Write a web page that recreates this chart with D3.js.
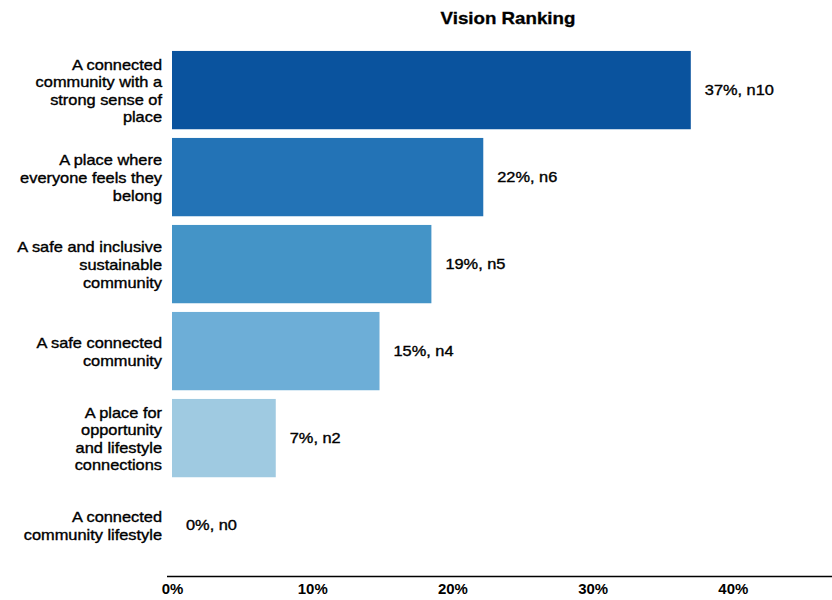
<!DOCTYPE html>
<html>
<head>
<meta charset="utf-8">
<script src="https://cdn.jsdelivr.net/npm/d3@7"></script>
<style>
  body { margin: 0; background: #fff; }
  svg text { font-family: "Liberation Sans", Arial, sans-serif; fill: #000; }
</style>
</head>
<body>
<svg id="chart" width="832" height="600"></svg>
<script>
// Vision statements, top to bottom, each split into display lines
const categories = [
  ["A connected", "community with a", "strong sense of", "place"],
  ["A place where", "everyone feels they", "belong"],
  ["A safe and inclusive", "sustainable", "community"],
  ["A safe connected", "community"],
  ["A place for", "opportunity", "and lifestyle", "connections"],
  ["A connected", "community lifestyle"]
];
// Share of responses (%) and response counts
const shares = [37.0, 22.2, 18.5, 14.8, 7.4, 0];
const counts = [10, 6, 5, 4, 2, 0];
const tickValues = [0, 10, 20, 30, 40];
const colors = ["#0a539e", "#2373b6", "#4494c7", "#6daed7", "#9fcae1", "#c6dbef"];

const svg = d3.select("#chart");
const ids = d3.range(categories.length);
const STRETCH = 1.17;   // wide lettering

const x = d3.scaleLinear().domain([0, 47]).range([172, 831]);
const y = d3.scaleBand().domain(ids).range([46.6, 568.6]).paddingInner(0.1).paddingOuter(0.05);

// Places a horizontally widened text at (px, py)
function wideText(parent, px, py, str, anchor, size, weight, stroke) {
  return parent.append("text")
    .attr("transform", `translate(${px},${py}) scale(${STRETCH},1)`)
    .attr("text-anchor", anchor)
    .attr("dy", "0.35em")
    .style("font-size", size + "px")
    .style("font-weight", weight)
    .style("stroke", stroke ? "#000" : null)
    .style("stroke-width", stroke ? stroke + "px" : null)
    .text(str);
}

// Title
wideText(svg, 508, 18, "Vision Ranking", "middle", 16, "bold", 0.3);

// Bars
svg.append("g").selectAll("rect").data(ids).join("rect")
  .attr("x", x(0))
  .attr("y", i => y(i))
  .attr("width", i => x(shares[i]) - x(0))
  .attr("height", y.bandwidth())
  .attr("fill", i => colors[i]);

// Value labels
const valG = svg.append("g");
ids.forEach(i => {
  wideText(valG, x(shares[i]) + 14, y(i) + y.bandwidth() / 2,
    `${Math.round(shares[i])}%, n${counts[i]}`, "start", 14, "normal", 0.35);
});

// Category labels (multi-line, right aligned)
const lineH = 17.6;
const catG = svg.append("g");
ids.forEach(i => {
  const lines = categories[i];
  const cy = y(i) + y.bandwidth() / 2 + 1;
  const top = cy - (lines.length - 1) * lineH / 2;
  lines.forEach((ln, k) => wideText(catG, 162, top + k * lineH, ln, "end", 14, "normal", 0.35));
});

// X axis: baseline and percentage labels, no tick marks
const xAxis = d3.axisBottom(x).tickValues(tickValues).tickSize(0).tickPadding(8)
  .tickFormat(d => d + "%");
const ax = svg.append("g").attr("transform", "translate(0,576.5)").call(xAxis);
ax.select(".domain").attr("d", `M${x(0) - 5},0H832`).attr("stroke", "#000").attr("stroke-width", 1.5);
ax.selectAll(".tick text")
  .attr("transform", "scale(1.07,1)")
  .style("font-family", "'Liberation Sans', Arial, sans-serif")
  .style("font-size", "14px").style("font-weight", "bold").attr("fill", "#000");
</script>
</body>
</html>
